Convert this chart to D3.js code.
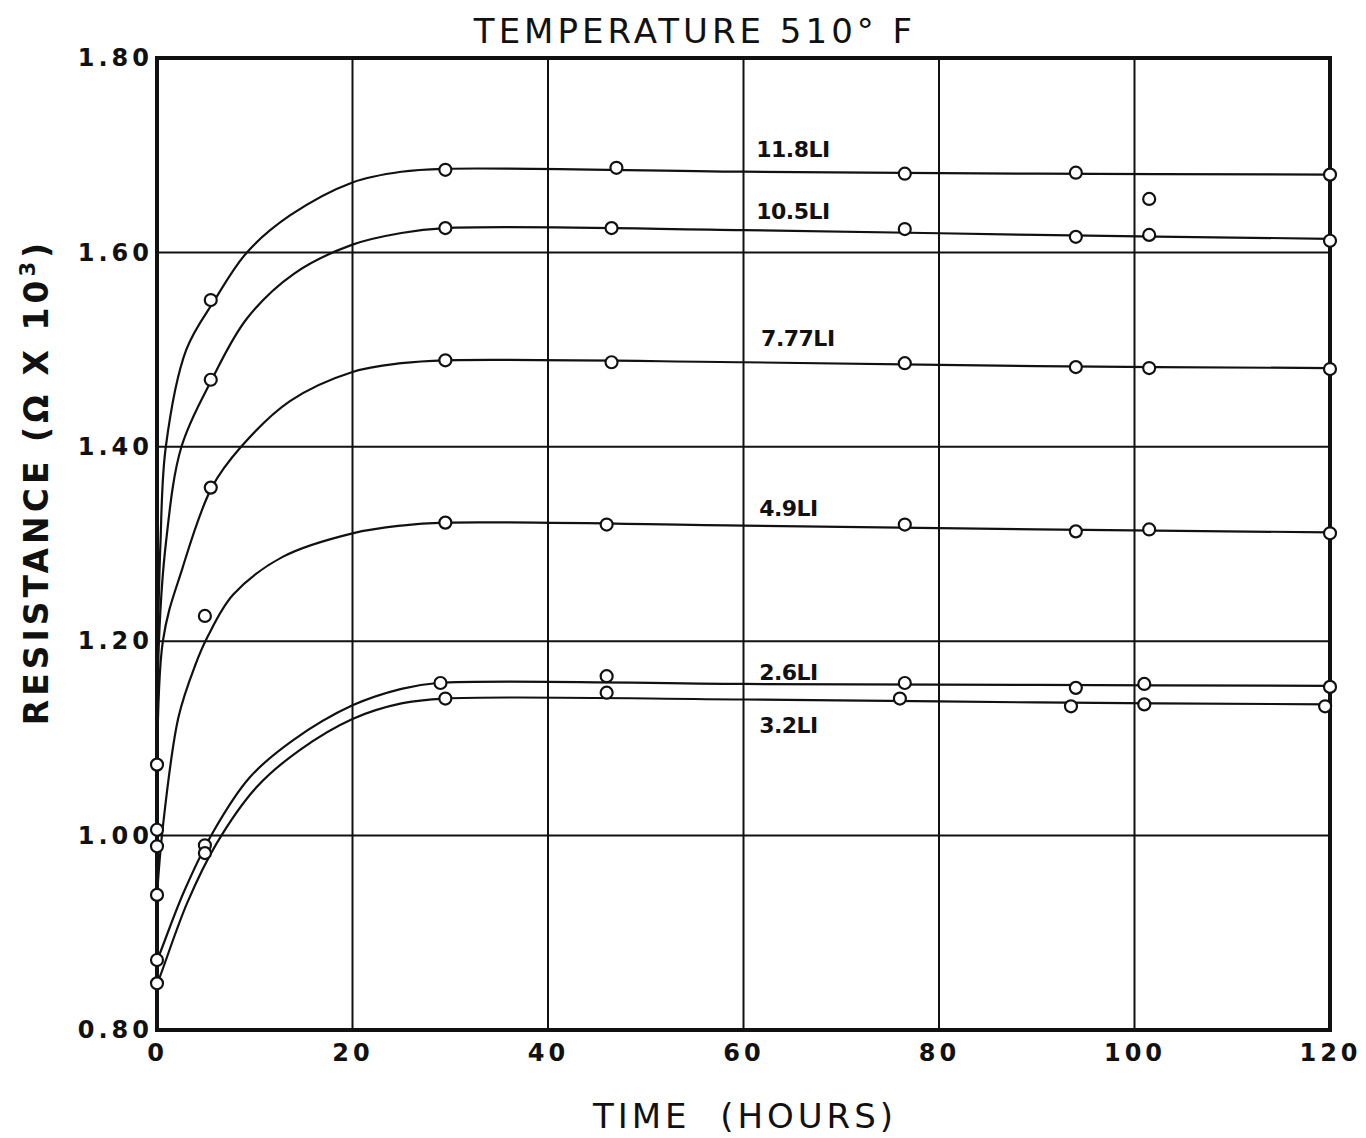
<!DOCTYPE html>
<html>
<head>
<meta charset="utf-8">
<script src="https://cdn.jsdelivr.net/npm/d3@7"></script>
<style>
  body { margin: 0; background: #fff; }
  svg { display: block; }
  text { fill: #111; }
</style>
</head>
<body>
<svg id="chart"></svg>
<script>
// ---- data ----
const series = ['11.8LI', '10.5LI', '7.77LI', '4.9LI', '2.6LI', '3.2LI'];

// measured points [hours, resistance]
const pts118 = [[0, 1.073], [5.5, 1.551], [29.5, 1.685], [47, 1.687], [76.5, 1.681], [94, 1.682], [101.5, 1.655], [120, 1.680]];
const pts105 = [[0, 1.006], [5.5, 1.469], [29.5, 1.625], [46.5, 1.625], [76.5, 1.624], [94, 1.616], [101.5, 1.618], [120, 1.612]];
const pts777 = [[0, 0.989], [5.5, 1.358], [29.5, 1.489], [46.5, 1.487], [76.5, 1.486], [94, 1.482], [101.5, 1.481], [120, 1.480]];
const pts49  = [[0, 0.939], [4.9, 1.226], [29.5, 1.322], [46, 1.320], [76.5, 1.320], [94, 1.313], [101.5, 1.315], [120, 1.311]];
const pts26  = [[0, 0.872], [4.9, 0.990], [29, 1.157], [46, 1.164], [76.5, 1.157], [94, 1.152], [101, 1.156], [120, 1.153]];
const pts32  = [[0, 0.848], [4.9, 0.982], [29.5, 1.141], [46, 1.147], [76, 1.141], [93.5, 1.133], [101, 1.135], [119.5, 1.133]];

// hand-drawn fitted curves
const fit118 = [[0, 1.073], [0.1, 1.20], [0.35, 1.30], [0.9, 1.40], [3, 1.50], [5.9, 1.551], [9.2, 1.60], [13.6, 1.638], [20, 1.672], [25, 1.683], [29.5, 1.686], [60, 1.683], [90, 1.681], [120, 1.680]];
const fit105 = [[0, 1.006], [0.2, 1.20], [0.9, 1.30], [2.5, 1.40], [5.6, 1.469], [9.2, 1.532], [14, 1.578], [20, 1.608], [25, 1.620], [29.5, 1.625], [60, 1.623], [90, 1.618], [120, 1.614]];
const fit777 = [[0, 0.989], [0.6, 1.20], [2.6, 1.275], [5.6, 1.358], [8.6, 1.40], [13.6, 1.447], [20, 1.477], [25, 1.486], [29.5, 1.489], [60, 1.487], [90, 1.483], [120, 1.481]];
const fit49  = [[0, 0.939], [0.6, 1.009], [2.2, 1.122], [3.9, 1.175], [5.2, 1.205], [7.8, 1.248], [12.9, 1.287], [20, 1.311], [25, 1.319], [29.5, 1.322], [60, 1.319], [90, 1.315], [120, 1.312]];
const fit26  = [[0, 0.872], [0.3, 0.879], [2.7, 0.941], [5.7, 1.003], [9.5, 1.060], [13.9, 1.098], [20, 1.134], [25, 1.151], [28.7, 1.157], [60, 1.156], [90, 1.155], [120, 1.154]];
const fit32  = [[0, 0.848], [0.3, 0.855], [3.1, 0.931], [6.1, 0.992], [10.2, 1.050], [14.6, 1.088], [20, 1.120], [25, 1.136], [29.5, 1.141], [60, 1.140], [90, 1.137], [120, 1.135]];

// label anchor in data coords [hours, resistance]
const labelAt = [[61.3, 1.704], [61.3, 1.641], [61.8, 1.510], [61.6, 1.335], [61.6, 1.166], [61.6, 1.112]];

const xTicks = [0, 20, 40, 60, 80, 100, 120];
const yTicks = [0.80, 1.00, 1.20, 1.40, 1.60, 1.80];

const points = [pts118, pts105, pts777, pts49, pts26, pts32];
const fits = [fit118, fit105, fit777, fit49, fit26, fit32];

// ---- layout ----
const width = 1366, height = 1138;
const margin = { top: 58, right: 36, bottom: 108, left: 157 };

const svg = d3.select('#chart')
    .attr('width', width)
    .attr('height', height);

const x = d3.scaleLinear().domain([0, 120]).range([margin.left, 1330]);
const y = d3.scaleLinear().domain([0.80, 1.80]).range([height - margin.bottom, margin.top]);
const frameRight = width - margin.right;

const font = "'DejaVu Sans', 'Liberation Sans', sans-serif";

// grid
svg.append('g')
    .selectAll('line')
    .data(xTicks.slice(1, -1))
    .join('line')
    .attr('x1', d => x(d)).attr('x2', d => x(d))
    .attr('y1', y(0.80)).attr('y2', y(1.80))
    .attr('stroke', '#111').attr('stroke-width', 2);

svg.append('g')
    .selectAll('line')
    .data(yTicks.slice(1, -1))
    .join('line')
    .attr('x1', x(0)).attr('x2', frameRight)
    .attr('y1', d => y(d)).attr('y2', d => y(d))
    .attr('stroke', '#111').attr('stroke-width', 2);

// frame
svg.append('rect')
    .attr('x', x(0)).attr('y', y(1.80))
    .attr('width', frameRight - x(0))
    .attr('height', y(0.80) - y(1.80))
    .attr('fill', 'none')
    .attr('stroke', '#111')
    .attr('stroke-width', 4);

// axes (tick labels only, the frame is drawn above)
const xAxis = d3.axisBottom(x).tickValues(xTicks).tickSize(0).tickPadding(14)
    .tickFormat(d3.format('d'));
const yAxis = d3.axisLeft(y).tickValues(yTicks).tickSize(0).tickPadding(8)
    .tickFormat(d3.format('.2f'));

const gx = svg.append('g')
    .attr('transform', `translate(0, ${y(0.80)})`)
    .call(xAxis);
const gy = svg.append('g')
    .attr('transform', `translate(${x(0)}, 0)`)
    .call(yAxis);

[gx, gy].forEach(g => {
    g.select('.domain').remove();
    g.selectAll('text')
        .attr('font-family', font)
        .attr('font-weight', 'bold')
        .attr('font-size', 24)
        .attr('letter-spacing', 4)
        .attr('fill', '#111');
});
gy.selectAll('text').attr('dx', 4);
gx.selectAll('text').attr('dx', 0);

// fitted curves
const line = d3.line()
    .x(d => x(d[0]))
    .y(d => y(d[1]))
    .curve(d3.curveCatmullRom.alpha(0.5));

svg.append('g')
    .selectAll('path')
    .data(fits)
    .join('path')
    .attr('d', line)
    .attr('fill', 'none')
    .attr('stroke', '#111')
    .attr('stroke-width', 2.2);

// measured points
svg.append('g')
    .selectAll('g')
    .data(points)
    .join('g')
    .selectAll('circle')
    .data(d => d)
    .join('circle')
    .attr('cx', d => x(d[0]))
    .attr('cy', d => y(d[1]))
    .attr('r', 6)
    .attr('fill', '#fff')
    .attr('stroke', '#111')
    .attr('stroke-width', 2.2);

// series labels
svg.append('g')
    .selectAll('text')
    .data(series)
    .join('text')
    .attr('x', (d, i) => x(labelAt[i][0]))
    .attr('y', (d, i) => y(labelAt[i][1]))
    .attr('dominant-baseline', 'middle')
    .attr('font-family', font)
    .attr('font-weight', 'bold')
    .attr('font-size', 22)
    .attr('letter-spacing', -0.5)
    .text(d => d);

// title
svg.append('text')
    .attr('x', 695)
    .attr('y', 43)
    .attr('text-anchor', 'middle')
    .attr('font-family', font)
    .attr('font-size', 34)
    .attr('letter-spacing', 4)
    .text('TEMPERATURE 510° F');

// x label
svg.append('text')
    .attr('x', 745)
    .attr('y', 1128)
    .attr('text-anchor', 'middle')
    .attr('font-family', font)
    .attr('font-size', 34)
    .attr('letter-spacing', 4)
    .attr('xml:space', 'preserve')
    .text('TIME  (HOURS)');

// y label
const yl = svg.append('text')
    .attr('transform', 'translate(48, 482) rotate(-90)')
    .attr('text-anchor', 'middle')
    .attr('font-family', font)
    .attr('font-weight', 'bold')
    .attr('font-size', 33)
    .attr('letter-spacing', 4);
yl.append('tspan').text('RESISTANCE (Ω X 10');
yl.append('tspan').attr('font-size', 21).attr('dy', -13).text('3');
yl.append('tspan').attr('dy', 13).text(')');
</script>
</body>
</html>
